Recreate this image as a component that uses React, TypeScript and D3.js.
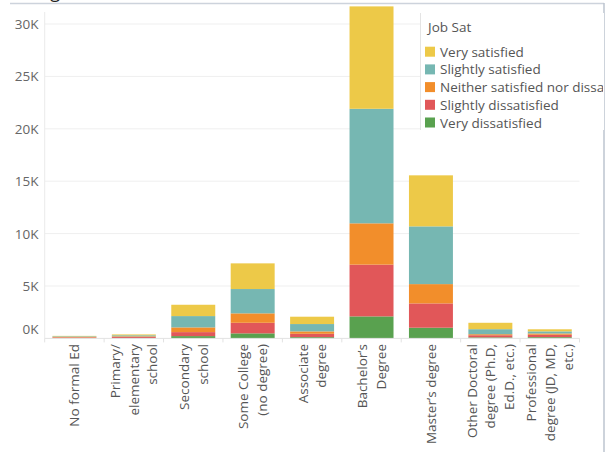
import React from "react";
import * as d3 from "d3";

const categories = [
  "No formal Ed",
  "Primary/ elementary school",
  "Secondary school",
  "Some College (no degree)",
  "Associate degree",
  "Bachelor's Degree",
  "Master's degree",
  "Other Doctoral degree (Ph.D, Ed.D., etc.)",
  "Professional degree (JD, MD, etc.)",
];
const categoryLines = [
  ["No formal Ed"],
  ["Primary/", "elementary", "school"],
  ["Secondary", "school"],
  ["Some College", "(no degree)"],
  ["Associate", "degree"],
  ["Bachelor\u2019s", "Degree"],
  ["Master\u2019s degree"],
  ["Other Doctoral", "degree (Ph.D,", "Ed.D., etc.)"],
  ["Professional", "degree (JD, MD,", "etc.)"],
];

const seriesNames = [
  "Very satisfied",
  "Slightly satisfied",
  "Neither satisfied nor dissatisfied",
  "Slightly dissatisfied",
  "Very dissatisfied",
];
const seriesColors = ["#EDC948", "#76B7B2", "#F28E2B", "#E15759", "#59A14F"];

const verySatisfied = [40, 80, 1080, 2450, 700, 9770, 4870, 610, 200];
const slightlySatisfied = [60, 100, 1080, 2320, 700, 10930, 5510, 480, 200];
const neither = [40, 60, 450, 900, 230, 3940, 1840, 100, 120];
const slightlyDissatisfied = [70, 100, 380, 1010, 320, 4940, 2320, 200, 230];
const veryDissatisfied = [30, 40, 220, 480, 120, 2100, 1020, 100, 120];

const yTicks = [0, 5000, 10000, 15000, 20000, 25000, 30000];

const W = 610;
const H = 452;
const plotLeft = 44.7;
const plotRight = 579.5;
const plotTop = 3;
const plotBottom = 338.4;

export default function App() {
  const seriesValues = [
    verySatisfied,
    slightlySatisfied,
    neither,
    slightlyDissatisfied,
    veryDissatisfied,
  ];
  const rows = categories.map((c, i) => {
    const r: any = { cat: c };
    seriesNames.forEach((s, k) => (r[s] = seriesValues[k][i]));
    return r;
  });
  // stack bottom-up: very dissatisfied first
  const stackOrder = [...seriesNames].reverse();
  const stacked = d3.stack<any>().keys(stackOrder)(rows);

  const x = d3
    .scaleBand<string>()
    .domain(categories)
    .range([plotLeft, plotRight])
    .paddingInner(0.26)
    .paddingOuter(0.13);
  const y = d3.scaleLinear().domain([0, 30000]).range([plotBottom, 24]);
  const colorOf = (s: string) => seriesColors[seriesNames.indexOf(s)];
  const step = x.step();
  const font = "'Open Sans', 'Noto Sans', sans-serif";

  return (
    <svg
      width={W}
      height={H}
      style={{ position: "absolute", left: 0, top: 0, background: "#fff" }}
      fontFamily={font}
    >
      <defs>
        <clipPath id="legclip">
          <rect x={420} y={0} width={183} height={H} />
        </clipPath>
      </defs>
      {/* cut-off title */}
      <text x={60} y={-2} textAnchor="end" fontSize={18} fill="#222">
        Learning
      </text>
      {/* frame lines */}
      <line x1={10} x2={604} y1={3.5} y2={3.5} stroke="#cdd3dc" strokeWidth={1.5} />
      <line x1={604} x2={604} y1={3} y2={H} stroke="#bcc4cf" strokeWidth={1.5} />

      {/* gridlines */}
      {yTicks.slice(1).map((t) => (
        <line
          key={t}
          x1={plotLeft}
          x2={plotRight}
          y1={y(t)}
          y2={y(t)}
          stroke="#efefef"
          strokeWidth={1}
        />
      ))}
      {/* left axis line */}
      <line x1={plotLeft} x2={plotLeft} y1={12} y2={plotBottom} stroke="#eaeaea" />
      {/* y tick labels */}
      {yTicks.map((t) => (
        <text
          key={t}
          x={38.5}
          y={Math.min(y(t), plotBottom - 9)}
          textAnchor="end"
          dominantBaseline="central"
          fontSize={13.5}
          fill="#666"
        >
          {d3.format("d")(t / 1000) + "K"}
        </text>
      ))}

      {/* bars */}
      {stacked.map((layer) => (
        <g key={layer.key} fill={colorOf(layer.key)}>
          {layer.map((d, i) => (
            <rect
              key={i}
              x={x(categories[i])}
              width={x.bandwidth()}
              y={y(d[1])}
              height={Math.max(0, y(d[0]) - y(d[1]))}
            />
          ))}
        </g>
      ))}

      {/* bottom axis */}
      <line x1={plotLeft} x2={plotRight} y1={plotBottom} y2={plotBottom} stroke="#e2e2e2" />
      {categories.map((c, i) => {
        const bx = (x(c) as number) - (step - x.bandwidth()) / 2;
        return (
          <line key={"t" + i} x1={bx} x2={bx} y1={plotBottom} y2={plotBottom + 4} stroke="#e2e2e2" />
        );
      })}
      <line x1={plotRight} x2={plotRight} y1={plotBottom} y2={plotBottom + 4} stroke="#e2e2e2" />

      {/* x labels */}
      {categories.map((c, i) => {
        const lines = categoryLines[i];
        const cx = (x(c) as number) + x.bandwidth() / 2;
        const ls = 18.5;
        return lines.map((ln, j) => {
          const lx = cx + (j - (lines.length - 1) / 2) * ls;
          return (
            <text
              key={c + j}
              transform={`translate(${lx},344) rotate(-90)`}
              textAnchor="end"
              dominantBaseline="central"
              fontSize={13.5}
              fill="#555"
            >
              {ln}
            </text>
          );
        });
      })}

      {/* legend */}
      <rect x={420} y={13} width={184} height={117} fill="#fff" />
      <line x1={420.5} x2={420.5} y1={13} y2={130} stroke="#e4e4e4" />
      <g clipPath="url(#legclip)">
        <text x={428} y={27} dominantBaseline="central" fontSize={13.5} fill="#555">
          Job Sat
        </text>
        {seriesNames.map((s, k) => (
          <g key={s} transform={`translate(0,${51.7 + k * 17.7})`}>
            <rect x={425} y={-5} width={10} height={10} fill={seriesColors[k]} />
            <text x={440} y={0} dominantBaseline="central" fontSize={13.5} fill="#555">
              {s}
            </text>
          </g>
        ))}
      </g>
    </svg>
  );
}
